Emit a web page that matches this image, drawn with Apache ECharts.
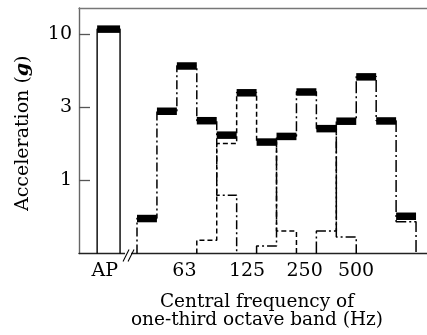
<!DOCTYPE html>
<html><head><meta charset="utf-8">
<script src="https://cdn.jsdelivr.net/npm/echarts@6/dist/echarts.min.js"></script>
<style>html,body{margin:0;padding:0;background:#fff}#c{width:427px;height:335px}</style>
</head><body><div id="c"></div>
<script>
// one-third octave bands (Hz), in drawing order
const bands = ['40','50','63','80','100','125','160','200','250','315','400','500','630','800'];
// AP bar value (g)
const apValue = 10.8;
// measured envelope (thick caps), one per band
const capValues = [0.55, 2.97, 6.05, 2.56, 2.04, 3.97, 1.83, 2.0, 4.02, 2.26, 2.54, 5.1, 2.55, 0.57];
// individual excitation groups (step outlines)
const group63Start = '40';
const group63 = [0.55, 2.97, 6.05, 2.56, 0.79];
const group125Start = '80';
const group125 = [0.39, 1.78, 3.97, 1.83, 0.45];
const group250Start = '160';
const group250 = [0.356, 2.0, 4.02, 2.26, 0.41];
const group500Start = '315';
const group500 = [0.45, 2.54, 5.1, 2.55, 0.52];
// axis ticks
const xTickLabels = ['AP','63','125','250','500'];
const xTickPositions = [-1.62, 2.38, 5.52, 8.41, 10.99];
const yTickLabels = ['1','3','10'];
const yTickValues = [1, 3.16, 10];

const FONT = 'DejaVu Serif';
const L = v => Math.log10(v);
const Y_MIN = -0.5, Y_MAX = 1.176;
const X_MIN = -2.91, X_MAX = 14.55;
const AP_LEFT = -2.0, AP_RIGHT = -0.85;

function outline(startBand, vals) {
  const s = bands.indexOf(startBand);
  const pts = [[s, Y_MIN]];
  vals.forEach((v, i) => { pts.push([s + i, L(v)]); pts.push([s + i + 1, L(v)]); });
  pts.push([s + vals.length, Y_MIN]);
  return pts;
}
function lineSeries(data, type, width) {
  return { type: 'line', data, xAxisIndex: 0, yAxisIndex: 0, symbol: 'none', showSymbol: false,
    silent: true, animation: false, clip: true,
    lineStyle: { color: '#000', width: width || 1.5, type } };
}
const capData = capValues.map((v, i) => [i, L(v), 1]);
capData.push([AP_LEFT, L(apValue), AP_RIGHT - AP_LEFT]);

const chart = echarts.init(document.getElementById('c'), null, { renderer: 'canvas' });
chart.setOption({
  animation: false,
  backgroundColor: '#fff',
  grid: { left: 79, right: 0, top: 8, bottom: 80, containLabel: false },
  xAxis: [{
    type: 'value', min: X_MIN, max: X_MAX, position: 'bottom',
    axisLine: { show: true, onZero: false, lineStyle: { color: '#222', width: 1.4 } },
    axisTick: { show: false },
    splitLine: { show: false },
    axisLabel: {
      customValues: xTickPositions, margin: 8, color: '#000', fontFamily: FONT, fontSize: 19,
      formatter: v => { let b = 0; xTickPositions.forEach((p, i) => { if (Math.abs(p - v) < Math.abs(xTickPositions[b] - v)) b = i; }); return xTickLabels[b]; }
    },
    name: 'Central frequency of\none-third octave band (Hz)', nameLocation: 'middle', nameGap: 40,
    nameTextStyle: { color: '#000', fontFamily: FONT, fontSize: 18.5, lineHeight: 18, padding: [0, 0, 0, 8] }
  }, {
    type: 'value', min: X_MIN, max: X_MAX, position: 'top',
    axisLine: { show: true, onZero: false, lineStyle: { color: '#777', width: 1.4 } },
    axisTick: { show: false }, axisLabel: { show: false }, splitLine: { show: false }
  }],
  yAxis: [{
    type: 'value', min: Y_MIN, max: Y_MAX,
    axisLine: { show: true, onZero: false, lineStyle: { color: '#666', width: 1.4 } },
    axisTick: { show: true, inside: true, length: 11, customValues: yTickValues.map(L), lineStyle: { color: '#555', width: 1.3 } },
    splitLine: { show: false },
    axisLabel: {
      customValues: yTickValues.map(L), margin: 7, color: '#000', fontFamily: FONT, fontSize: 19,
      formatter: v => { let b = 0; yTickValues.forEach((t, i) => { if (Math.abs(L(t) - v) < Math.abs(L(yTickValues[b]) - v)) b = i; }); return yTickLabels[b]; }
    },
    name: 'Acceleration ({g|g})', nameLocation: 'middle', nameRotate: 90, nameGap: 46,
    nameTextStyle: { color: '#000', fontFamily: FONT, fontSize: 19, padding: [0, 5, 0, 0],
      rich: { g: { fontFamily: FONT, fontSize: 19, fontWeight: 'bold', fontStyle: 'italic', color: '#000' } } }
  }],
  series: [
    lineSeries([[AP_LEFT, Y_MIN], [AP_LEFT, L(apValue)], [AP_RIGHT, L(apValue)], [AP_RIGHT, Y_MIN]], 'solid', 1.4),
    lineSeries(outline(group63Start, group63), [9, 3, 2, 3]),
    lineSeries(outline(group125Start, group125), [5, 3]),
    lineSeries(outline(group250Start, group250), [10, 3, 2, 3]),
    lineSeries(outline(group500Start, group500), [12, 3, 2, 3]),
    {
      type: 'custom', xAxisIndex: 0, yAxisIndex: 0, silent: true, animation: false,
      encode: { x: 0, y: 1 }, data: capData, z: 5,
      renderItem: (params, api) => {
        const p0 = api.coord([api.value(0), api.value(1)]);
        const p1 = api.coord([api.value(0) + api.value(2), api.value(1)]);
        return { type: 'rect', shape: { x: p0[0], y: p0[1] - 3.5, width: p1[0] - p0[0], height: 7.5 }, style: { fill: '#000' } };
      }
    }
  ]
});
// axis break mark "//" placed through the axis scales
const bx = chart.convertToPixel({ xAxisIndex: 0 }, -0.5);
const by = chart.convertToPixel({ yAxisIndex: 0 }, Y_MIN);
chart.setOption({
  graphic: [
    { type: 'rect', z: 100, shape: { x: bx - 2, y: by - 2, width: 6, height: 4 }, style: { fill: '#fff' } },
    { type: 'line', z: 101, shape: { x1: bx - 4, y1: by + 8, x2: bx + 2, y2: by - 4 }, style: { stroke: '#000', lineWidth: 1.1 } },
    { type: 'line', z: 101, shape: { x1: bx + 1, y1: by + 8, x2: bx + 7, y2: by - 4 }, style: { stroke: '#000', lineWidth: 1.1 } }
  ]
});
</script></body></html>
